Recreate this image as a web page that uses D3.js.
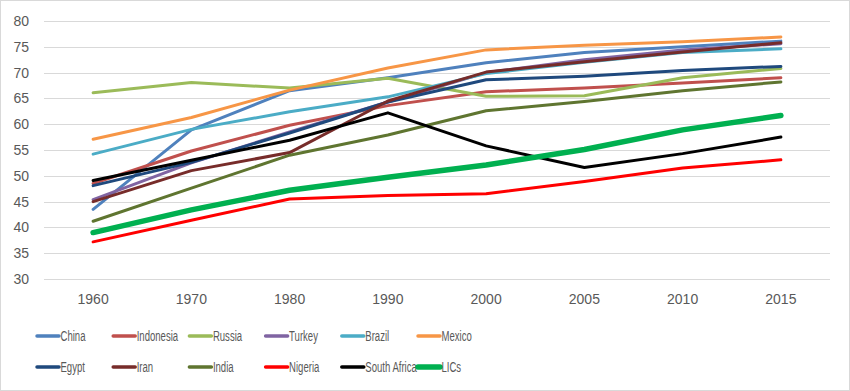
<!DOCTYPE html>
<html>
<head>
<meta charset="utf-8">
<script src="https://cdn.jsdelivr.net/npm/d3@7"></script>
<style>
  body { margin: 0; background: #fff; }
  text { font-family: "Liberation Sans", Arial, sans-serif; fill: #595959; }
</style>
</head>
<body>
<div id="chart"></div>
<script>
var years = ["1960", "1970", "1980", "1990", "2000", "2005", "2010", "2015"];
var yTicks = [30, 35, 40, 45, 50, 55, 60, 65, 70, 75, 80];

var countries = ["China", "Indonesia", "Russia", "Turkey", "Brazil", "Mexico",
                 "Egypt", "Iran", "India", "Nigeria", "South Africa", "LICs"];
var colors = ["#4f81bd", "#c0504d", "#9bbb59", "#8064a2", "#4bacc6", "#f79646",
              "#1f497d", "#772c2a", "#5f7530", "#ff0000", "#000000", "#00b050"];

var china       = [43.5, 58.9, 66.5, 69.0, 71.9, 73.9, 75.0, 76.1];
var indonesia   = [48.5, 54.8, 59.8, 63.6, 66.3, 67.0, 68.0, 69.0];
var russia      = [66.1, 68.1, 67.0, 68.9, 65.4, 65.5, 69.0, 70.8];
var turkey      = [45.4, 52.5, 58.5, 64.3, 70.0, 72.5, 74.4, 75.6];
var brazil      = [54.2, 59.0, 62.4, 65.3, 69.8, 72.0, 73.9, 74.6];
var mexico      = [57.1, 61.3, 66.6, 70.9, 74.4, 75.3, 76.0, 76.9];
var egypt       = [48.1, 52.6, 58.3, 64.3, 68.6, 69.3, 70.4, 71.2];
var iran        = [45.0, 51.0, 54.5, 64.5, 70.1, 72.1, 74.0, 75.8];
var india       = [41.2, 47.6, 54.0, 57.9, 62.6, 64.4, 66.5, 68.2];
var nigeria     = [37.2, 41.4, 45.5, 46.2, 46.5, 48.9, 51.5, 53.1];
var southAfrica = [49.1, 53.0, 56.9, 62.2, 55.8, 51.6, 54.3, 57.5];
var lics        = [39.0, 43.4, 47.2, 49.7, 52.1, 55.1, 58.9, 61.7];

var seriesValues = [china, indonesia, russia, turkey, brazil, mexico,
                    egypt, iran, india, nigeria, southAfrica, lics];

var width = 850, height = 391;

var svg = d3.select("#chart").append("svg")
  .attr("width", width)
  .attr("height", height);

// outer frame
svg.append("rect")
  .attr("x", 0.5).attr("y", 0.5)
  .attr("width", width - 1).attr("height", height - 1)
  .attr("fill", "#fff")
  .attr("stroke", "#d9d9d9");

var x = d3.scaleBand().domain(years).range([44, 830]);
var y = d3.scaleLinear().domain([30, 80]).range([279, 21]);
var cx = function(d) { return x(d) + x.bandwidth() / 2; };

// gridlines
svg.append("g")
  .selectAll("line")
  .data(yTicks)
  .join("line")
  .attr("x1", 44).attr("x2", 830)
  .attr("y1", function(d) { return Math.round(y(d)) + 0.5; })
  .attr("y2", function(d) { return Math.round(y(d)) + 0.5; })
  .attr("stroke", "#d9d9d9")
  .attr("stroke-width", 1);

// y axis labels
var yAxis = svg.append("g")
  .attr("transform", "translate(44,0)")
  .call(d3.axisLeft(y).tickValues(yTicks).tickSize(0).tickPadding(15));
yAxis.select(".domain").remove();
yAxis.selectAll("text")
  .attr("font-size", 14)
  .style("font-family", "'Liberation Sans', Arial, sans-serif")
  .attr("fill", "#595959");

// x axis labels
var xAxis = svg.append("g")
  .attr("transform", "translate(0,279)")
  .call(d3.axisBottom(x).tickSize(0).tickPadding(15));
xAxis.select(".domain").remove();
xAxis.selectAll("text")
  .attr("font-size", 14)
  .style("font-family", "'Liberation Sans', Arial, sans-serif")
  .attr("fill", "#595959");

// lines
var line = d3.line()
  .x(function(d, i) { return cx(years[i]); })
  .y(function(d) { return y(d); });

for (var i in countries) {
  svg.append("path")
    .datum(seriesValues[i])
    .attr("d", line)
    .attr("fill", "none")
    .attr("stroke", colors[i])
    .attr("stroke-width", countries[i] == "LICs" ? 5.5 : 3)
    .attr("stroke-linejoin", "round")
    .attr("stroke-linecap", "round");
}

// legend (narrow font look, squeezed horizontally)
var legend = svg.append("g");
for (var j in countries) {
  var col = j % 6, row = Math.floor(j / 6);
  var lx = 37 + col * 76.2, ly = 336 + row * 31;
  legend.append("line")
    .attr("x1", lx).attr("x2", lx + 22)
    .attr("y1", ly).attr("y2", ly)
    .attr("stroke", colors[j])
    .attr("stroke-width", countries[j] == "LICs" ? 5.5 : 3.5)
    .attr("stroke-linecap", "round");
  legend.append("text")
    .attr("transform", "translate(" + (lx + 23.5) + "," + (ly + 5) + ") scale(0.66,1)")
    .attr("font-size", 14.5)
    .text(countries[j]);
}
</script>
</body>
</html>
